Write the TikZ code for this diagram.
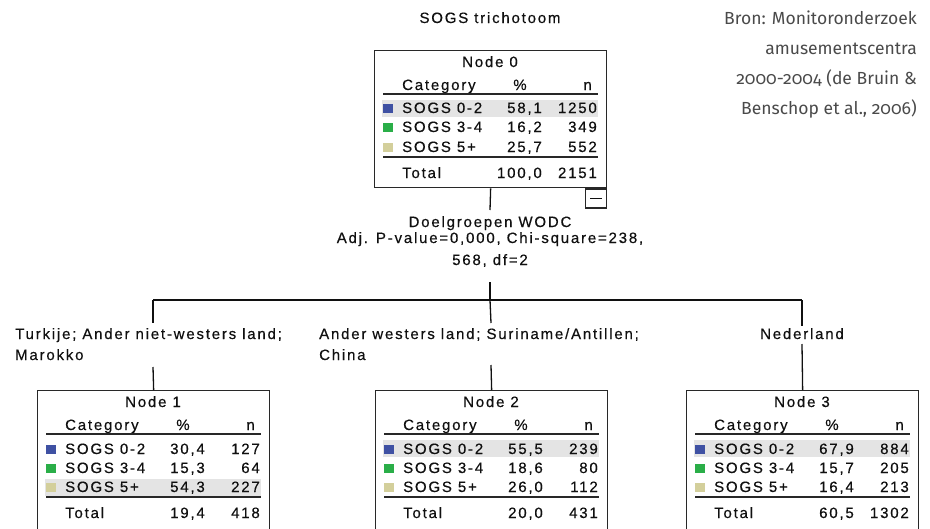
\documentclass[tikz,border=0pt]{standalone}
\usepackage{fontspec}
\newfontfamily\spss[LetterSpace=12,FakeBold=0.4]{Liberation Sans}
\newfontfamily\srcfont[Numbers=OldStyle]{Fira Sans}
\definecolor{catblue}{HTML}{3F51A3}
\definecolor{catgreen}{HTML}{2AAE48}
\definecolor{catbeige}{HTML}{D3CF9B}
\definecolor{hlgray}{HTML}{E4E4E4}
\definecolor{srcgray}{HTML}{4A4A4A}
\definecolor{ink}{HTML}{101010}
\tikzset{
  txt/.style={font=\spss\fontsize{15}{16}\selectfont, text=ink, inner sep=0pt},
  srctxt/.style={font=\srcfont\fontsize{17.5}{30}\selectfont, text=srcgray, inner sep=0pt},
  spssbox/.style={draw=ink!90, line width=1.3pt, minimum width=232pt, minimum height=137pt, inner sep=0pt, anchor=north west},
  conn/.style={draw=ink, line width=1.3pt},
  rule/.style={draw=ink!90, line width=1.2pt}
}
% #1 prefix, #2 L, #3 y center, #4 colour, #5 label, #6 pct, #7 n
\newcommand\spssrow[7]{%
  \fill[#4] (#2+9,#3-4.5) rectangle ++(10,9);
  \node[txt,anchor=base west] (#1-lab) at (#2+28,#3+5) {#5};
  \node[txt,anchor=base east] (#1-pct) at (#2+168,#3+5) {#6};
  \node[txt,anchor=base east] (#1-n) at (#2+223,#3+5) {#7};
}
% #1 name, #2 L, #3 T, #4 title, #5 highlighted row centre offset, #6 box height
\newcommand\spsshead[6]{%
  \fill[hlgray] (#2+8,#3+#5-8.5) rectangle (#2+224,#3+#5+8.5);
  \node[spssbox, minimum height=#6pt] (#1) at (#2,#3) {};
  \node[txt,anchor=base] (#1-title) at (#2+116,#3+17) {#4};
  \node[txt,anchor=base west] (#1-cat) at (#2+28,#3+40) {Category};
  \node[txt,anchor=base] (#1-pcthead) at (#2+146,#3+40) {\%};
  \node[txt,anchor=base east] (#1-nhead) at (#2+218,#3+40) {n};
  \draw[rule] (#2+9,#3+44) -- (#2+224,#3+44);
  \draw[rule] (#2+9,#3+107) -- (#2+224,#3+107);
}
\begin{document}
\begin{tikzpicture}[x=1pt,y=-1pt]
\useasboundingbox (0,0) rectangle (930,528);
\fill[white] (0,0) rectangle (930,528);

% title
\node[txt,anchor=base] (title) at (490,23) {SOGS trichotoom};

% source
\node[srctxt,anchor=base east] (src1) at (917,24) {Bron: Monitoronderzoek};
\node[srctxt,anchor=base east] (src2) at (917,54) {amusementscentra};
\node[srctxt,anchor=base east] (src3) at (917,84) {2000-2004 (de Bruin \&};
\node[srctxt,anchor=base east] (src4) at (917,114) {Benschop et al., 2006)};

% Node 0
\spsshead{n0}{374}{50}{Node 0}{58}{137}
\spssrow{n0r1}{374}{108}{catblue}{SOGS 0-2}{58,1}{1250}
\spssrow{n0r2}{374}{127}{catgreen}{SOGS 3-4}{16,2}{349}
\spssrow{n0r3}{374}{147}{catbeige}{SOGS 5+}{25,7}{552}
\node[txt,anchor=base west] (n0-tot) at (374+28,50+128) {Total};
\node[txt,anchor=base east] (n0-totpct) at (374+168,50+128) {100,0};
\node[txt,anchor=base east] (n0-totn) at (374+223,50+128) {2151};
\node[draw=ink!90, line width=1.2pt, minimum width=21pt, minimum height=19pt, inner sep=0pt, anchor=north east] (n0min) at (n0.south east) {};
\draw[line width=1.2pt, ink] ([xshift=-6pt]n0min.center) -- ([xshift=6pt]n0min.center);

% split label
\node[txt,anchor=base] (split1) at (490,227) {Doelgroepen WODC};
\node[txt,anchor=base] (split2) at (490,243) {Adj. P-value=0,000, Chi-square=238,};
\node[txt,anchor=base] (split3) at (490,265) {568, df=2};
\coordinate (s0top) at (490,210);
\coordinate (s0bot) at (490,282);
\coordinate (bar1) at (153,300);
\coordinate (bar2) at (490,300);
\coordinate (bar3) at (802,300);
\draw[conn] (n0.south) -- (s0top);
\draw[conn] (s0bot) -- (bar2);
\draw[conn] (bar1) -- (bar3);

% branch labels
\node[txt,anchor=base west] (b1a) at (15,339) {Turkije; Ander niet-westers land;};
\node[txt,anchor=base west] (b1b) at (15,360) {Marokko};
\node[txt,anchor=base west] (b2a) at (319,339) {Ander westers land; Suriname/Antillen;};
\node[txt,anchor=base west] (b2b) at (319,360) {China};
\node[txt,anchor=base] (b3a) at (802,339) {Nederland};

\coordinate (l1top) at (153,323);
\coordinate (l1bot) at (153,367);
\coordinate (l2top) at (491,323);
\coordinate (l2bot) at (491,365);
\coordinate (l3top) at (802,326);
\coordinate (l3bot) at (802,344);

% Node 1
\spsshead{n1}{37}{390}{Node 1}{97}{150}
\spssrow{n1r1}{37}{449}{catblue}{SOGS 0-2}{30,4}{127}
\spssrow{n1r2}{37}{468}{catgreen}{SOGS 3-4}{15,3}{64}
\spssrow{n1r3}{37}{487}{catbeige}{SOGS 5+}{54,3}{227}
\node[txt,anchor=base west] (n1-tot) at (37+28,390+128) {Total};
\node[txt,anchor=base east] (n1-totpct) at (37+168,390+128) {19,4};
\node[txt,anchor=base east] (n1-totn) at (37+223,390+128) {418};

% Node 2
\spsshead{n2}{375}{390}{Node 2}{58}{150}
\spssrow{n2r1}{375}{449}{catblue}{SOGS 0-2}{55,5}{239}
\spssrow{n2r2}{375}{468}{catgreen}{SOGS 3-4}{18,6}{80}
\spssrow{n2r3}{375}{487}{catbeige}{SOGS 5+}{26,0}{112}
\node[txt,anchor=base west] (n2-tot) at (375+28,390+128) {Total};
\node[txt,anchor=base east] (n2-totpct) at (375+168,390+128) {20,0};
\node[txt,anchor=base east] (n2-totn) at (375+223,390+128) {431};

% Node 3
\spsshead{n3}{686}{390}{Node 3}{58}{150}
\spssrow{n3r1}{686}{449}{catblue}{SOGS 0-2}{67,9}{884}
\spssrow{n3r2}{686}{468}{catgreen}{SOGS 3-4}{15,7}{205}
\spssrow{n3r3}{686}{487}{catbeige}{SOGS 5+}{16,4}{213}
\node[txt,anchor=base west] (n3-tot) at (686+28,390+128) {Total};
\node[txt,anchor=base east] (n3-totpct) at (686+168,390+128) {60,5};
\node[txt,anchor=base east] (n3-totn) at (686+223,390+128) {1302};

\draw[conn] (bar1) -- (l1top);
\draw[conn] (l1bot) -- (n1.north);
\draw[conn] (bar2) -- (l2top);
\draw[conn] (l2bot) -- (n2.north);
\draw[conn] (bar3) -- (l3top);
\draw[conn] (l3bot) -- (n3.north);
\end{tikzpicture}
\end{document}
